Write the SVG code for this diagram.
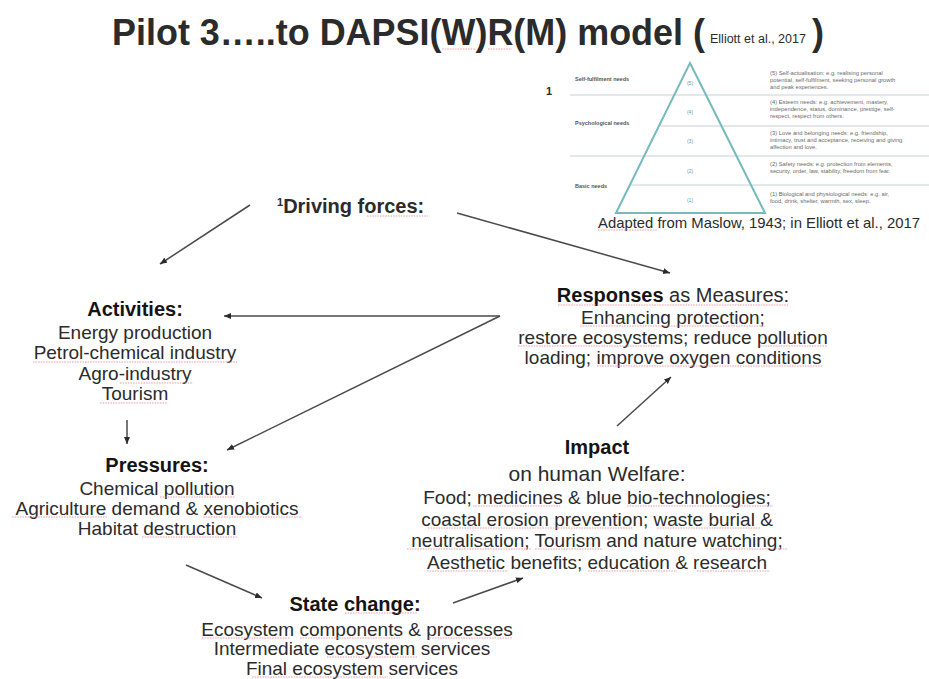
<svg xmlns="http://www.w3.org/2000/svg" width="929" height="679" viewBox="0 0 929 679">
<style>
  text { font-family: "Liberation Sans", Arial, sans-serif; fill: #2b2b2b; }
  .h { font-weight: bold; font-size: 20px; fill: #141414; text-anchor: middle; }
  .b { font-size: 19px; text-anchor: middle; }
  .conn line { stroke: #4a4a4a; stroke-width: 1.5; marker-end: url(#ah); }
  .sq line { stroke: #e8808f; stroke-width: 1.2; stroke-dasharray: 1.6 1; opacity: 0.75; }
  .pyr { fill: none; stroke: #78b9bc; stroke-width: 2; }
  .grid line { stroke: #c6d2d3; stroke-width: 1; }
  .lvl { font-size: 5px; fill: #5aa0a6; text-anchor: middle; }
  .grp { font-size: 5.5px; font-weight: bold; fill: #555; }
  .desc { font-size: 5.8px; fill: #6a6a6a; }
</style>
<defs>
  <marker id="ah" markerUnits="userSpaceOnUse" markerWidth="8" markerHeight="7" refX="7" refY="3.5" orient="auto">
    <path d="M0,0.5 L7,3.5 L0,6.5 z" fill="#2a2a2a"/>
  </marker>
</defs>
<rect width="929" height="679" fill="#ffffff"/>

<g id="title">
  <text x="112" y="45" font-size="36" font-weight="bold" fill="#111" textLength="593" lengthAdjust="spacingAndGlyphs">Pilot 3…..to DAPSI(W)R(M) model (</text>
  <text x="710" y="43" font-size="12.5" fill="#111">Elliott et al., 2017</text>
  <text x="812" y="45" font-size="36" font-weight="bold" fill="#111">)</text>
</g>

<g id="maslow">
  <g class="grid">
    <line x1="570" y1="95" x2="929" y2="95"/>
    <line x1="659" y1="126" x2="929" y2="126"/>
    <line x1="570" y1="156" x2="929" y2="156"/>
    <line x1="630" y1="185" x2="929" y2="185"/>
  </g>
  <polygon class="pyr" points="690,63 765,213 616,213"/>
  <text x="546" y="95" font-size="11" font-weight="bold" fill="#222">1</text>
  <text class="grp" x="575" y="81">Self-fulfilment needs</text>
  <text class="grp" x="575" y="125">Psychological needs</text>
  <text class="grp" x="575" y="188">Basic needs</text>
  <text class="lvl" x="690" y="85">(5)</text>
  <text class="lvl" x="690" y="114">(4)</text>
  <text class="lvl" x="690" y="143">(3)</text>
  <text class="lvl" x="690" y="173">(2)</text>
  <text class="lvl" x="690" y="202">(1)</text>
  <text class="desc" x="770" y="75">(5) Self-actualisation: e.g. realising personal</text>
  <text class="desc" x="770" y="82">potential, self-fulfilment, seeking personal growth</text>
  <text class="desc" x="770" y="89">and peak experiences.</text>
  <text class="desc" x="770" y="104">(4) Esteem needs: e.g. achievement, mastery,</text>
  <text class="desc" x="770" y="111">independence, status, dominance, prestige, self-</text>
  <text class="desc" x="770" y="118">respect, respect from others.</text>
  <text class="desc" x="770" y="135">(3) Love and belonging needs: e.g. friendship,</text>
  <text class="desc" x="770" y="142">intimacy, trust and acceptance, receiving and giving</text>
  <text class="desc" x="770" y="149">affection and love.</text>
  <text class="desc" x="770" y="166">(2) Safety needs: e.g. protection from elements,</text>
  <text class="desc" x="770" y="173">security, order, law, stability, freedom from fear.</text>
  <text class="desc" x="770" y="196">(1) Biological and physiological needs: e.g. air,</text>
  <text class="desc" x="770" y="203">food, drink, shelter, warmth, sex, sleep.</text>
  <text x="598" y="228" font-size="15" fill="#333" textLength="322" lengthAdjust="spacingAndGlyphs">Adapted from Maslow, 1943; in Elliott et al., 2017</text>
</g>

<g id="driving">
  <text x="277" y="213" font-size="20" font-weight="bold" fill="#141414"><tspan font-size="11" dy="-7">1</tspan><tspan dy="7">Driving forces:</tspan></text>
</g>

<g id="activities">
  <text class="h" x="135" y="316">Activities:</text>
  <text class="b" x="135" y="339">Energy production</text>
  <text class="b" x="135" y="359">Petrol-chemical industry</text>
  <text class="b" x="135" y="380">Agro-industry</text>
  <text class="b" x="135" y="400">Tourism</text>
</g>

<g id="responses">
  <text x="673" y="302" font-size="20" text-anchor="middle"><tspan font-weight="bold" fill="#141414">Responses</tspan> as Measures:</text>
  <text class="b" x="673" y="324">Enhancing protection;</text>
  <text class="b" x="673" y="344">restore ecosystems; reduce pollution</text>
  <text class="b" x="673" y="364">loading; improve oxygen conditions</text>
</g>

<g id="pressures">
  <text class="h" x="157" y="472">Pressures:</text>
  <text class="b" x="157" y="495">Chemical pollution</text>
  <text class="b" x="157" y="515">Agriculture demand &amp; xenobiotics</text>
  <text class="b" x="157" y="535">Habitat destruction</text>
</g>

<g id="impact">
  <text class="h" x="597" y="454">Impact</text>
  <text x="597" y="481" font-size="21" text-anchor="middle" fill="#1e1e1e">on human Welfare:</text>
  <text class="b" x="597" y="504">Food; medicines &amp; blue bio-technologies;</text>
  <text class="b" x="597" y="526">coastal erosion prevention; waste burial &amp;</text>
  <text class="b" x="597" y="547">neutralisation; Tourism and nature watching;</text>
  <text class="b" x="597" y="569">Aesthetic benefits; education &amp; research</text>
</g>

<g id="state">
  <text class="h" x="355" y="611">State change:</text>
  <text class="b" x="357" y="636">Ecosystem components &amp; processes</text>
  <text class="b" x="352" y="655">Intermediate ecosystem services</text>
  <text class="b" x="352" y="675">Final ecosystem services</text>
</g>

<g id="connectors" class="conn">
  <line x1="250" y1="205" x2="160" y2="264"/>
  <line x1="457" y1="213" x2="670" y2="273"/>
  <line x1="500" y1="316" x2="224" y2="316"/>
  <line x1="500" y1="316" x2="227" y2="450"/>
  <line x1="127" y1="420" x2="127" y2="444"/>
  <line x1="617" y1="426" x2="671" y2="377"/>
  <line x1="186" y1="565" x2="262" y2="598"/>
  <line x1="453" y1="603" x2="523" y2="578"/>
</g>

<g id="spellcheck" class="sq">
  <line x1="442" y1="49" x2="476" y2="49"/>
  <line x1="488" y1="49" x2="512" y2="49"/>
  <line x1="367" y1="216" x2="428" y2="216"/>
  <line x1="33" y1="362" x2="237" y2="362"/>
  <line x1="120" y1="383" x2="193" y2="383"/>
  <line x1="100" y1="403" x2="167" y2="403"/>
  <line x1="558" y1="305" x2="788" y2="305"/>
  <line x1="580" y1="326" x2="765" y2="326"/>
  <line x1="518" y1="346" x2="660" y2="346"/>
  <line x1="760" y1="346" x2="827" y2="346"/>
  <line x1="597" y1="366" x2="823" y2="366"/>
  <line x1="160" y1="497" x2="235" y2="497"/>
  <line x1="12" y1="517" x2="107" y2="517"/>
  <line x1="203" y1="517" x2="302" y2="517"/>
  <line x1="142" y1="537" x2="238" y2="537"/>
  <line x1="473" y1="506" x2="560" y2="506"/>
  <line x1="627" y1="506" x2="773" y2="506"/>
  <line x1="428" y1="528" x2="633" y2="528"/>
  <line x1="657" y1="528" x2="760" y2="528"/>
  <line x1="407" y1="549" x2="532" y2="549"/>
  <line x1="535" y1="549" x2="603" y2="549"/>
  <line x1="710" y1="549" x2="788" y2="549"/>
  <line x1="427" y1="571" x2="507" y2="571"/>
  <line x1="588" y1="571" x2="677" y2="571"/>
  <line x1="697" y1="571" x2="770" y2="571"/>
  <line x1="345" y1="613" x2="418" y2="613"/>
  <line x1="202" y1="638" x2="290" y2="638"/>
  <line x1="300" y1="638" x2="400" y2="638"/>
  <line x1="427" y1="638" x2="512" y2="638"/>
  <line x1="327" y1="657" x2="418" y2="657"/>
  <line x1="252" y1="677" x2="388" y2="677"/>
  <line x1="598" y1="230" x2="657" y2="230"/>
</g>
</svg>
